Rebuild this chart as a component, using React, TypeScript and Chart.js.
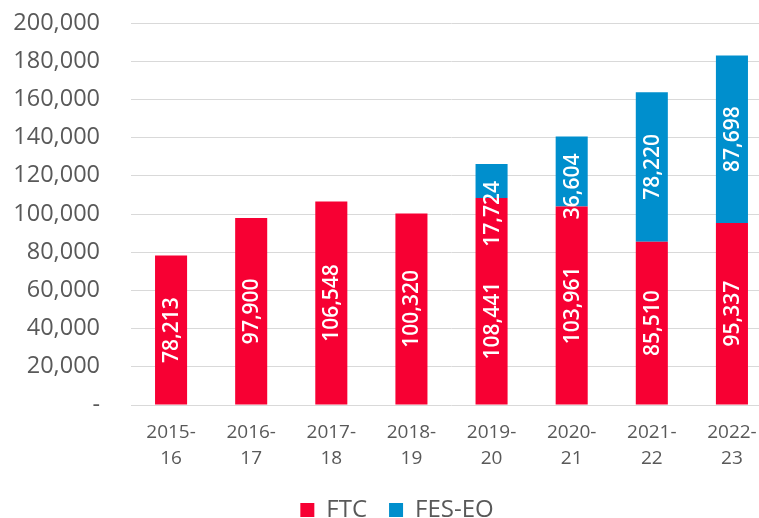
import React, { useEffect, useRef } from "react";
import { Chart, registerables } from "chart.js";

Chart.register(...registerables);

const categories: string[][] = [
  ["2015-", "16"],
  ["2016-", "17"],
  ["2017-", "18"],
  ["2018-", "19"],
  ["2019-", "20"],
  ["2020-", "21"],
  ["2021-", "22"],
  ["2022-", "23"],
];
const ftcValues: number[] = [78213, 97900, 106548, 100320, 108441, 103961, 85510, 95337];
const fesValues: (number | null)[] = [null, null, null, null, 17724, 36604, 78220, 87698];
const yTickMax = 200000;
const yTickStep = 20000;

const FONT = "'Open Sans', sans-serif";
const GREY = "#595959";

const barLabelPlugin = {
  id: "barLabels",
  afterDatasetsDraw(chart: any) {
    const ctx = chart.ctx;
    ctx.save();
    ctx.font = `600 21px ${FONT}`;
    const n = chart.data.labels.length;
    for (let i = 0; i < n; i++) {
      const items: { x: number; cy: number; half: number; text: string; top: number }[] = [];
      chart.data.datasets.forEach((ds: any, di: number) => {
        const v = ds.data[i];
        if (v === null || v === undefined) return;
        const el = chart.getDatasetMeta(di).data[i];
        const { x, y, base } = el.getProps(["x", "y", "base"], true);
        const text = v.toLocaleString("en-US");
        const half = ctx.measureText(text).width / 2;
        items.push({ x, cy: (y + base) / 2, half, text, top: Math.min(y, base) });
      });
      if (items.length === 2) {
        const [lo, hi] = items;
        if (hi.cy - hi.half < hi.top + 17) {
          hi.cy = hi.top + 17 + hi.half;
          const minLoTop = hi.cy + hi.half + 35;
          if (lo.cy - lo.half < minLoTop) lo.cy = minLoTop + lo.half;
        }
      }
      items.forEach((it) => {
        ctx.save();
        ctx.translate(it.x, it.cy);
        ctx.rotate(-Math.PI / 2);
        ctx.fillStyle = "#ffffff";
        ctx.textAlign = "center";
        ctx.textBaseline = "middle";
        ctx.fillText(it.text, 0, 1);
        ctx.restore();
      });
    }
    ctx.restore();
  },
};

const legendShiftPlugin = {
  id: "legendShift",
  afterLayout(chart: any) {
    if (chart.legend) chart.legend.left += 22;
  },
};

export default function App() {
  const ref = useRef<HTMLCanvasElement | null>(null);
  useEffect(() => {
    if (!ref.current) return;
    const chart = new Chart(ref.current, {
      type: "bar",
      data: {
        labels: categories,
        datasets: [
          {
            label: "FTC",
            data: ftcValues,
            backgroundColor: "#F70033",
            barPercentage: 0.4,
            categoryPercentage: 1,
          },
          {
            label: "FES-EO",
            data: fesValues,
            backgroundColor: "#008FCD",
            barPercentage: 0.4,
            categoryPercentage: 1,
          },
        ],
      },
      options: {
        responsive: false,
        animation: false,
        devicePixelRatio: 1,
        layout: { padding: { top: 23, left: 0, right: 0, bottom: 0 } },
        plugins: {
          tooltip: { enabled: false },
          legend: {
            position: "bottom",
            labels: {
              boxWidth: 14,
              boxHeight: 14,
              padding: 22,
              color: GREY,
              font: { family: FONT, size: 24 },
            },
          },
        },
        scales: {
          x: {
            stacked: true,
            grid: { display: false },
            border: { display: false },
            ticks: {
              color: GREY,
              font: { family: FONT, size: 19, lineHeight: 1.37 },
              padding: 7,
              maxRotation: 0,
              autoSkip: false,
            },
            afterFit(scale: any) {
              scale.height = 71;
            },
          },
          y: {
            stacked: true,
            min: 0,
            max: yTickMax,
            border: { display: false },
            grid: {
              color: "#d9d9d9",
              lineWidth: 1,
              drawTicks: true,
              tickLength: 31,
              tickColor: "rgba(0,0,0,0)",
            },
            ticks: {
              stepSize: yTickStep,
              color: GREY,
              padding: 0,
              font: { family: FONT, size: 23.5 },
              callback: (v: any) => (Number(v) === 0 ? "-" : Number(v).toLocaleString("en-US")),
            },
            afterFit(scale: any) {
              scale.width = 131;
            },
          },
        },
      },
      plugins: [barLabelPlugin, legendShiftPlugin],
    });
    return () => chart.destroy();
  }, []);
  return (
    <div style={{ position: "fixed", left: 0, top: 0, width: 759, height: 518, overflow: "hidden", background: "#fff" }}>
      <canvas ref={ref} width={772} height={532} style={{ width: 772, height: 532, display: "block" }} />
    </div>
  );
}
